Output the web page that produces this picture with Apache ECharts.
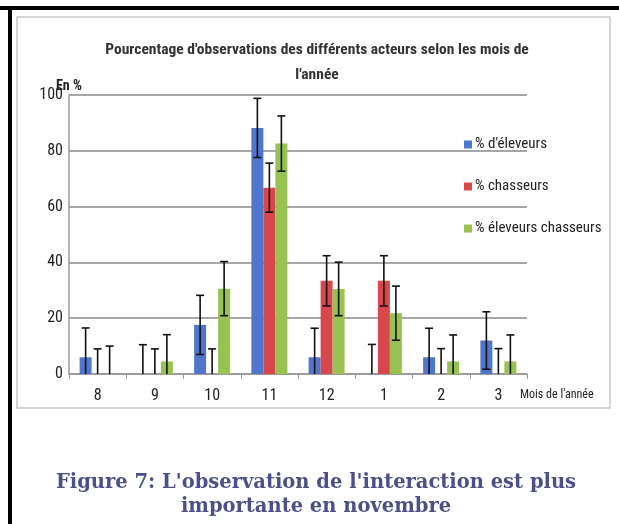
<!DOCTYPE html>
<html><head><meta charset="utf-8">
<script src="https://cdn.jsdelivr.net/npm/echarts@6/dist/echarts.min.js"></script>
<style>html,body{margin:0;padding:0;background:#fff}#c{width:619px;height:524px}</style>
</head><body><div id="c"></div>
<script>
const months = ['8','9','10','11','12','1','2','3'];
const seriesNames = ["% d'éleveurs", '% chasseurs', '% éleveurs chasseurs'];
const eleveurs = [6, 0, 17.6, 88.2, 6, 0, 6, 12];
const chasseurs = [0, 0, 0, 66.8, 33.4, 33.4, 0, 0];
const eleveursChasseurs = [0, 4.5, 30.6, 82.6, 30.5, 21.8, 4.5, 4.5];
const errEleveurs = [10.5, 10.5, 10.6, 10.6, 10.4, 10.6, 10.4, 10.3];
const errChasseurs = [9, 9, 9, 8.8, 9, 9, 9.1, 9.1];
const errEleveursChasseurs = [10, 9.6, 9.7, 9.9, 9.6, 9.7, 9.5, 9.5];
const yTicks = [0, 20, 40, 60, 80, 100];

const colors = ['#4f76cc', '#d8474b', '#98c251'];
const values = [eleveurs, chasseurs, eleveursChasseurs];
const errs = [errEleveurs, errChasseurs, errEleveursChasseurs];
const BW = 12;

const chart = echarts.init(document.getElementById('c'), null, {renderer: 'canvas'});
const narrow = "'Liberation Sans Narrow', 'Roboto Condensed', Roboto, sans-serif";

const barSeries = values.map((v, i) => ({
  name: seriesNames[i], type: 'bar', data: v, barWidth: BW, barGap: '0%',
  itemStyle: {color: colors[i]}, z: 2, animation: false
}));

const errSeries = values.map((v, i) => ({
  name: seriesNames[i] + '_err', type: 'custom', z: 5, animation: false,
  data: v.map((val, k) => [k, val, errs[i][k]]),
  renderItem: function (params, api) {
    const k = api.value(0), val = api.value(1), e = api.value(2);
    const off = (i - 1) * BW;
    const top = api.coord([k, val + e]);
    const bot = api.coord([k, Math.max(0, val - e)]);
    const x = top[0] + off;
    const style = {stroke: '#111', lineWidth: 1.6};
    return {type: 'group', children: [
      {type: 'line', shape: {x1: x, y1: top[1], x2: x, y2: bot[1]}, style},
      {type: 'line', shape: {x1: x - 4, y1: top[1], x2: x + 4, y2: top[1]}, style},
      ...(val - e > 0 ? [{type: 'line', shape: {x1: x - 4, y1: bot[1], x2: x + 4, y2: bot[1]}, style}] : [])
    ]};
  }
}));

chart.setOption({
  animation: false,
  backgroundColor: '#fff',
  graphic: [
    {type: 'rect', shape: {x: 17, y: 17, width: 593, height: 391}, style: {fill: 'none', stroke: '#c8c8c8', lineWidth: 1.5}, z: 0},
    {type: 'rect', shape: {x: 0, y: 6, width: 619, height: 4}, style: {fill: '#000'}},
    {type: 'rect', shape: {x: 8, y: 6, width: 4, height: 518}, style: {fill: '#000'}},
    {type: 'text', left: 56, top: 79, style: {text: 'En %', font: "bold 14px " + narrow, fill: '#222'}},
    {type: 'text', left: 520, top: 389, style: {text: "Mois de l'année", font: "12px " + narrow, fill: '#222'}}
  ],
  title: [
    {text: "Pourcentage d'observations des différents acteurs selon les mois de\nl'année",
     left: 312, top: 33, textAlign: 'center',
     textStyle: {fontFamily: narrow, fontSize: 15.5, fontWeight: 'bold', color: '#333', lineHeight: 25}},
    {text: "Figure 7: L'observation de l'interaction est plus\nimportante en novembre",
     left: 311, top: 466, textAlign: 'center',
     textStyle: {fontFamily: "'DejaVu Serif', serif", fontSize: 19.5, fontWeight: 'bold', color: '#4b5088', lineHeight: 24}}
  ],
  legend: {
    orient: 'vertical', left: 459, top: 132, itemGap: 27, itemWidth: 8, itemHeight: 8,
    icon: 'rect', data: seriesNames,
    textStyle: {fontFamily: narrow, fontSize: 15, color: '#222', padding: [0, 0, 0, -2]}
  },
  grid: {left: 69, right: 92, top: 95, bottom: 150, containLabel: false},
  xAxis: {
    type: 'category', data: months, boundaryGap: true,
    axisLine: {lineStyle: {color: '#999', width: 1.5}},
    axisTick: {show: true, length: 5, lineStyle: {color: '#999'}},
    axisLabel: {fontFamily: narrow, fontSize: 16, color: '#222', margin: 14}
  },
  yAxis: {
    type: 'value', min: 0, max: 100, interval: 20,
    axisLine: {show: true, lineStyle: {color: '#999', width: 1.5}},
    axisTick: {show: false},
    axisLabel: {fontFamily: narrow, fontSize: 16, color: '#222', margin: 6},
    splitLine: {lineStyle: {color: '#8a8a8a', width: 1.5}}
  },
  series: [...barSeries, ...errSeries]
});
</script></body></html>
